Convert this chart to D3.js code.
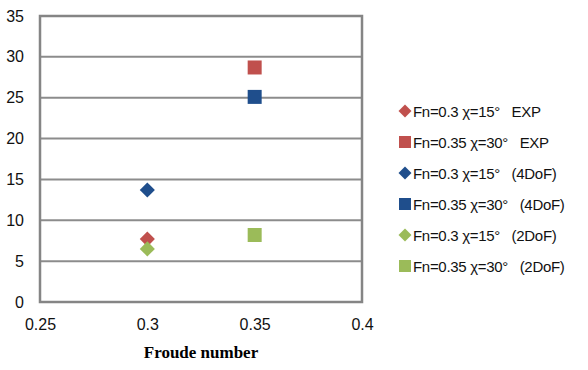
<!DOCTYPE html>
<html>
<head>
<meta charset="utf-8">
<script src="https://cdn.jsdelivr.net/npm/d3@7"></script>
<style>
  body { margin: 0; background: #fff; }
  svg { display: block; }
</style>
</head>
<body>
<svg id="chart" width="588" height="370"></svg>
<script>
// series: name, froude number, value
var seriesNames = [
  "Fn=0.3 \u03c7=15\u00b0   EXP",
  "Fn=0.35 \u03c7=30\u00b0   EXP",
  "Fn=0.3 \u03c7=15\u00b0   (4DoF)",
  "Fn=0.35 \u03c7=30\u00b0   (4DoF)",
  "Fn=0.3 \u03c7=15\u00b0   (2DoF)",
  "Fn=0.35 \u03c7=30\u00b0   (2DoF)"
];
var froude = [0.3, 0.35, 0.3, 0.35, 0.3, 0.35];
var values = [7.7, 28.7, 13.7, 25.1, 6.5, 8.2];
var shapes = ["diamond", "square", "diamond", "square", "diamond", "square"];
var colors = ["#c0504d", "#c0504d", "#1f4e8c", "#1f4e8c", "#9bbb59", "#9bbb59"];

var xTicks = [0.25, 0.3, 0.35, 0.4];
var yTicks = [0, 5, 10, 15, 20, 25, 30, 35];

(function () {
  var svg = d3.select("#chart");
  var plotLeft = 40, plotRight = 362, plotTop = 16, plotBottom = 302;

  var x = d3.scaleLinear().domain([0.25, 0.4]).range([plotLeft, plotRight]);
  var y = d3.scaleLinear().domain([0, 35]).range([plotBottom, plotTop]);

  var font = "'Liberation Sans', Arial, sans-serif";

  // grid lines
  svg.append("g")
    .selectAll("line")
    .data(yTicks)
    .enter()
    .append("line")
    .attr("x1", plotLeft).attr("x2", plotRight)
    .attr("y1", function (d) { return y(d); })
    .attr("y2", function (d) { return y(d); })
    .attr("stroke", "#8c8c8c")
    .attr("stroke-width", 2);

  // plot frame
  svg.append("rect")
    .attr("x", plotLeft).attr("y", plotTop)
    .attr("width", plotRight - plotLeft).attr("height", plotBottom - plotTop)
    .attr("fill", "none")
    .attr("stroke", "#858585")
    .attr("stroke-width", 2.5);

  // y axis labels
  var yAxis = d3.axisLeft(y).tickValues(yTicks).tickSize(0).tickPadding(16);
  var gy = svg.append("g").attr("transform", "translate(" + plotLeft + ",0)").call(yAxis);
  gy.select(".domain").remove();
  gy.selectAll("text").style("font-family", font).style("font-size", "16px").attr("fill", "#111");

  // x axis labels
  var xAxis = d3.axisBottom(x).tickValues(xTicks).tickSize(0).tickPadding(17)
    .tickFormat(function (d) { return String(d); });
  var gx = svg.append("g").attr("transform", "translate(0," + plotBottom + ")").call(xAxis);
  gx.select(".domain").remove();
  gx.selectAll("text").style("font-family", font).style("font-size", "16px").attr("fill", "#111");

  // axis title
  svg.append("text")
    .attr("x", 201).attr("y", 358)
    .attr("text-anchor", "middle")
    .style("font-family", "'Liberation Serif', 'DejaVu Serif', serif")
    .style("font-weight", "bold")
    .style("font-size", "17px")
    .text("Froude number");

  function markerPath(shape, r) {
    if (shape === "square") return "M" + (-r) + "," + (-r) + "H" + r + "V" + r + "H" + (-r) + "Z";
    var d = r * 1.08;
    return "M0," + (-d) + "L" + d + ",0L0," + d + "L" + (-d) + ",0Z";
  }

  // points
  svg.append("g")
    .selectAll("path")
    .data(d3.range(seriesNames.length))
    .enter()
    .append("path")
    .attr("d", function (i) { return markerPath(shapes[i], 7); })
    .attr("transform", function (i) { return "translate(" + x(froude[i]) + "," + y(values[i]) + ")"; })
    .attr("fill", function (i) { return colors[i]; });

  // legend
  var legend = svg.append("g").selectAll("g")
    .data(d3.range(seriesNames.length))
    .enter()
    .append("g")
    .attr("transform", function (i) { return "translate(405," + (111 + i * 31) + ")"; });

  legend.append("path")
    .attr("d", function (i) { return markerPath(shapes[i], 6); })
    .attr("fill", function (i) { return colors[i]; });

  legend.append("text")
    .attr("x", 8).attr("y", 5.5)
    .style("font-family", font)
    .style("font-size", "15px")
    .style("letter-spacing", "-0.3px")
    .style("white-space", "pre")
    .attr("fill", "#111")
    .text(function (i) { return seriesNames[i]; });
})();
</script>
</body>
</html>
